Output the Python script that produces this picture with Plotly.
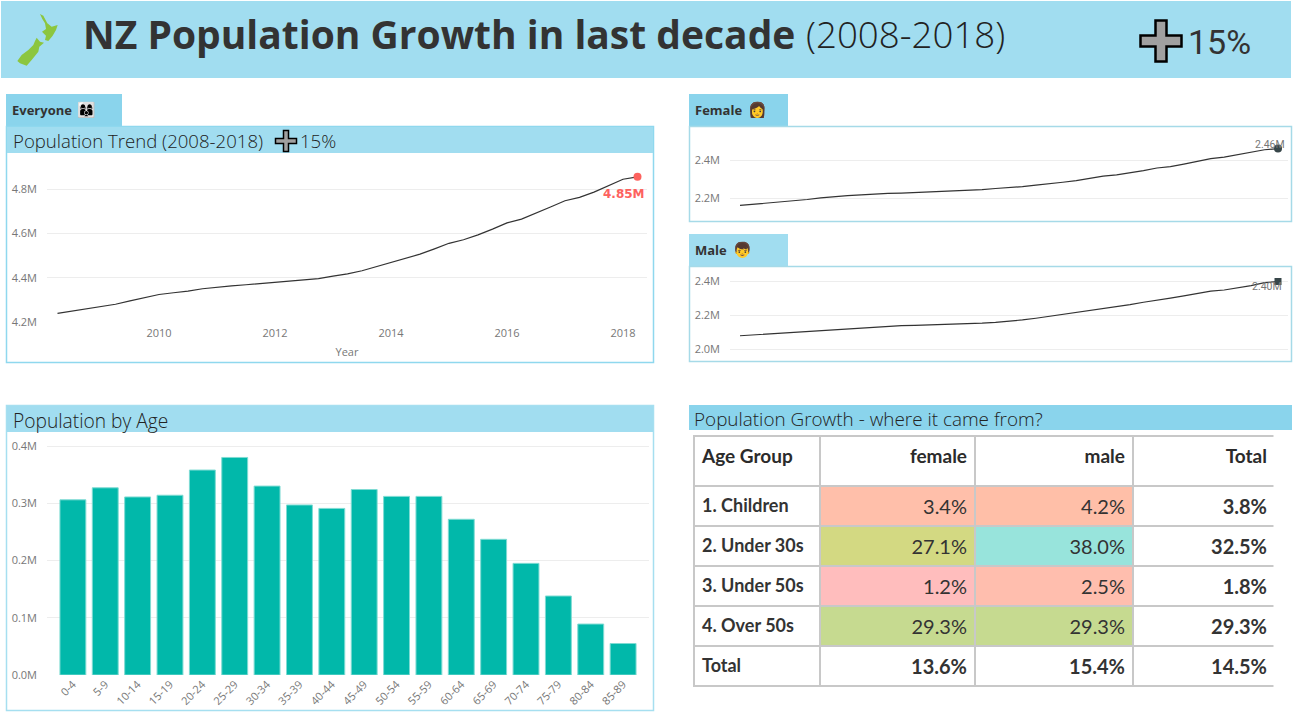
import plotly.graph_objects as go

W, H = 1302, 714

# ---------- data ----------
years = [2008.25 + 0.25 * i for i in range(41)]
everyone = [4.239,4.250,4.259,4.269,4.280,4.295,4.311,4.324,4.332,4.339,4.350,4.358,4.363,4.368,4.373,4.378,4.383,4.389,4.396,4.407,4.417,4.431,4.449,4.469,4.487,4.506,4.530,4.555,4.571,4.593,4.619,4.647,4.664,4.690,4.719,4.747,4.762,4.786,4.814,4.844,4.855]
female = [2.161,2.167,2.172,2.177,2.183,2.192,2.201,2.208,2.212,2.216,2.221,2.224,2.226,2.229,2.232,2.234,2.236,2.240,2.244,2.250,2.254,2.260,2.268,2.277,2.283,2.291,2.303,2.315,2.322,2.332,2.344,2.358,2.365,2.378,2.393,2.407,2.415,2.427,2.441,2.454,2.460]
male = [2.078,2.083,2.087,2.092,2.097,2.103,2.110,2.116,2.120,2.123,2.129,2.134,2.137,2.139,2.141,2.144,2.147,2.149,2.152,2.157,2.163,2.171,2.181,2.192,2.204,2.215,2.227,2.240,2.249,2.261,2.275,2.289,2.299,2.312,2.326,2.340,2.347,2.359,2.373,2.390,2.397]
age_groups = ["0-4","5-9","10-14","15-19","20-24","25-29","30-34","35-39","40-44","45-49","50-54","55-59","60-64","65-69","70-74","75-79","80-84","85-89"]
age_pop = [0.306,0.327,0.311,0.314,0.358,0.380,0.330,0.297,0.291,0.324,0.312,0.312,0.272,0.237,0.195,0.138,0.089,0.055]

trend_ticks = [4.2, 4.4, 4.6, 4.8]
trend_labels = ["4.2M", "4.4M", "4.6M", "4.8M"]
female_ticks = [2.2, 2.4]
female_labels = ["2.2M", "2.4M"]
male_ticks = [2.0, 2.2, 2.4]
male_labels = ["2.0M", "2.2M", "2.4M"]
age_ticks = [0, 0.1, 0.2, 0.3, 0.4]
age_labels = ["0.0M", "0.1M", "0.2M", "0.3M", "0.4M"]

tbl_header = ["Age Group", "female", "male", "Total"]
tbl_group = ["1. Children", "2. Under 30s", "3. Under 50s", "4. Over 50s", "Total"]
tbl_female = ["3.4%", "27.1%", "1.2%", "29.3%", "13.6%"]
tbl_male = ["4.2%", "38.0%", "2.5%", "29.3%", "15.4%"]
tbl_total = ["3.8%", "32.5%", "1.8%", "29.3%", "14.5%"]
tbl_female_fill = ["#FFBFAA", "#D3D982", "#FFBDBD", "#C6DA90", "#FFFFFF"]
tbl_male_fill = ["#FFBFA8", "#98E4DC", "#FFBEAE", "#C6DA90", "#FFFFFF"]

# ---------- helpers ----------
SANS = "Open Sans"
fx = lambda p: p / W
fy = lambda p: 1 - p / H
def dom_x(a, b): return [fx(a), fx(b)]
def dom_y(top, bottom): return [fy(bottom), fy(top)]

shapes, annos = [], []
def rect(x0, y0, x1, y1, fill=None, line=None, lw=1, layer="below"):
    shapes.append(dict(type="rect", xref="paper", yref="paper", x0=fx(x0), x1=fx(x1), y0=fy(y0), y1=fy(y1),
                       fillcolor=fill or "rgba(0,0,0,0)", line=dict(color=line or "rgba(0,0,0,0)", width=lw if line else 0), layer=layer))
def poly(points, fill, line=None, lw=0, layer="above"):
    d = "M" + " L".join(f"{fx(x):.5f},{fy(y):.5f}" for x, y in points) + " Z"
    shapes.append(dict(type="path", xref="paper", yref="paper", path=d, fillcolor=fill,
                       line=dict(color=line or fill, width=lw), layer=layer))
def text(x, y, s, size, color="#333333", family=SANS, weight=None):
    annos.append(dict(xref="paper", yref="paper", x=fx(x - 2), y=fy(y), text=s, showarrow=False, xanchor="left", yanchor="middle",
                      font=dict(size=size, color=color, family=family, weight=weight)))
def plus(cx, cy, half, arm, lw):
    a = arm / 2
    pts = [(cx-a,cy-half),(cx+a,cy-half),(cx+a,cy-a),(cx+half,cy-a),(cx+half,cy+a),(cx+a,cy+a),(cx+a,cy+half),(cx-a,cy+half),(cx-a,cy+a),(cx-half,cy+a),(cx-half,cy-a),(cx-a,cy-a)]
    poly(pts, "#A0A0A0", "#000000", lw)

BAND = "#A1DDF0"; TAB = "#8AD4EC"
EMOJI = "Noto Color Emoji"
DARK = "#222222"

# ---------- panels ----------
rect(1, 1, 1291, 78, BAND)
rect(6, 94, 122, 126, TAB)
rect(6.5, 126.5, 653.5, 362.5, "#FFFFFF", "#8FD8EE", 1.5)
rect(7, 127, 653, 153, BAND)
rect(689, 94, 788, 126, TAB)
rect(689.5, 126.5, 1291.5, 221.5, "#FFFFFF", "#A6DAE8", 1.5)
rect(689, 234, 788, 266, BAND)
rect(689.5, 266.5, 1291.5, 361.5, "#FFFFFF", "#A6DAE8", 1.5)
rect(6.5, 405.5, 653.5, 710.5, "#FFFFFF", "#A6DFF0", 1.5)
rect(7, 406, 653, 432, BAND)
rect(689, 405, 1292, 430, TAB)

# ---------- titles ----------
nz_n = [(90,27),(100,32),(112,55),(125,65),(143,60),(138,75),(128,92),(115,108),(105,105),(108,92),(96,80),(108,72),(105,55),(97,42)]
nz_s = [(80,98),(90,110),(102,113),(88,125),(85,140),(65,165),(50,182),(30,175),(22,168),(35,150),(55,135),(70,120),(75,108)]
poly([(10+x/3, 5+y/3) for x, y in nz_n], "#8CC63F")
poly([(10+x/3, 5+y/3) for x, y in nz_s], "#8CC63F")
text(83, 33, "NZ Population Growth in last decade", 39, weight=700)
text(806, 34, "(2008-2018)", 36.7, color=DARK, weight=300)
plus(1161, 41, 20.5, 11, 2.5)
text(1188, 42, "15%", 34, family="Roboto")
text(12, 110, "Everyone", 13, weight=700)
text(77, 110, "\U0001F469\u200D\U0001F469\u200D\U0001F466", 15, family=EMOJI)
text(13, 141, "Population Trend (2008-2018)", 18.6, color=DARK, weight=300)
plus(286, 141, 10.5, 5, 1.5)
text(300, 141, "15%", 18.6, color=DARK, weight=300)
text(695, 110, "Female", 13, weight=700)
text(748, 110, "👩", 15, family=EMOJI)
text(695, 250, "Male", 13, weight=700)
text(733, 250, "👦", 15, family=EMOJI)
text(13, 420, "Population by Age", 19.2, color=DARK, weight=300)
text(694, 419, "Population Growth - where it came from?", 18.9, color=DARK, weight=300)

# ---------- traces ----------
LINE = dict(color="#333333", width=1.2)
fig = go.Figure()
fig.add_trace(go.Scatter(x=years, y=everyone, mode="lines", line=LINE, xaxis="x", yaxis="y", hoverinfo="skip"))
fig.add_trace(go.Scatter(x=years[-1:], y=everyone[-1:], mode="markers", marker=dict(color="#FD625E", size=8), xaxis="x", yaxis="y"))
fig.add_trace(go.Scatter(x=years, y=female, mode="lines", line=LINE, xaxis="x2", yaxis="y2", hoverinfo="skip"))
fig.add_trace(go.Scatter(x=years[-1:], y=female[-1:], mode="markers", marker=dict(color="#374649", size=8), xaxis="x2", yaxis="y2"))
fig.add_trace(go.Scatter(x=years, y=male, mode="lines", line=LINE, xaxis="x3", yaxis="y3", hoverinfo="skip"))
fig.add_trace(go.Scatter(x=years[-1:], y=male[-1:], mode="markers", marker=dict(color="#374649", size=7, symbol="square"), xaxis="x3", yaxis="y3"))
fig.add_trace(go.Bar(x=age_groups, y=age_pop, marker=dict(color="#01B8AA", line=dict(color="#7FDBD3", width=1)), width=0.8, xaxis="x4", yaxis="y4"))

TBL = "Lato"
bold = lambda xs: [f"<b>{v}</b>" for v in xs]
plain_last_bold = lambda xs: [f"<span>{v}</span>" for v in xs[:-1]] + [f"<b>{xs[-1]}</b>"]
fig.add_trace(go.Table(
    domain=dict(x=dom_x(694, 1275), y=dom_y(436, 690)),
    columnwidth=[126, 155, 158, 142],
    header=dict(values=bold(tbl_header), height=50, align=["left", "right", "right", "right"],
                fill_color="#FFFFFF", line=dict(color="#C8C8C8", width=1.5),
                font=dict(size=19, color="#2B2B2B", family=TBL)),
    cells=dict(values=[bold(tbl_group), plain_last_bold(tbl_female), plain_last_bold(tbl_male), bold(tbl_total)],
               height=40, align=["left", "right", "right", "right"],
               fill_color=[["#FFFFFF"]*5, tbl_female_fill, tbl_male_fill, ["#FFFFFF"]*5],
               line=dict(color="#C8C8C8", width=1.5),
               font=dict(size=[18, 20, 20, 20], color="#333333", family=TBL)),
))
rect(1273.5, 430, 1285, 692, "#FFFFFF", layer="above")

# value labels bound to the data
LBL = "#777777"
annos.append(dict(x=years[-1], y=everyone[-1], xref="x", yref="y", text="<b>4.85M</b>", showarrow=False, xanchor="right", xshift=9, yshift=-17,
                  font=dict(size=12, color="#FD625E", family="DejaVu Sans")))
annos.append(dict(x=years[-1], y=female[-1], xref="x2", yref="y2", text="2.46M", showarrow=False, xanchor="right", xshift=9, yshift=4,
                  font=dict(size=10.5, color=LBL, family="Roboto")))
annos.append(dict(x=years[-1], y=male[-1], xref="x3", yref="y3", text="2.40M", showarrow=False, xanchor="right", xshift=6, yshift=-5,
                  font=dict(size=10.5, color=LBL, family="Roboto")))

TICK = dict(size=11, color="#777777", family=SANS)
GRID = "#EDEDED"
def yax(dom, rng, vals, labels, anchor):
    return dict(domain=dom, range=rng, tickvals=vals, ticktext=labels, showgrid=True, gridcolor=GRID, gridwidth=1,
                zeroline=False, showline=False, ticks="", tickfont=TICK, ticklabelstandoff=9, anchor=anchor, fixedrange=True)

def xr(px_left, px_right, px0, val0, per):
    return [val0 + (px_left - px0) / per, val0 + (px_right - px0) / per]

fig.update_layout(
    width=W, height=H, autosize=False, margin=dict(l=0, r=0, t=0, b=0, autoexpand=False), showlegend=False,
    paper_bgcolor="#FFFFFF", plot_bgcolor="rgba(0,0,0,0)", shapes=shapes, annotations=annos, bargap=0.2,
    xaxis=dict(domain=dom_x(47, 647), range=xr(47, 647, 159, 2010, 58), tickvals=[2010, 2012, 2014, 2016, 2018], showgrid=False, zeroline=False, ticks="",
               tickfont=TICK, anchor="y", ticklabelstandoff=3, title=dict(text="Year", font=TICK, standoff=9)),
    yaxis=yax(dom_y(165, 322), [4.2, 4.2 + 157 / 221.67], trend_ticks, trend_labels, "x"),
    xaxis2=dict(domain=dom_x(730, 1288), range=xr(730, 1288, 740, 2008.25, 53.8), visible=False, anchor="y2"),
    yaxis2=yax(dom_y(135, 215), [2.2 - 17 / 190, 2.2 + 63 / 190], female_ticks, female_labels, "x2"),
    xaxis3=dict(domain=dom_x(730, 1288), range=xr(730, 1288, 740, 2008.25, 53.8), visible=False, anchor="y3"),
    yaxis3=yax(dom_y(272, 355), [2.0 - 6 / 170, 2.0 + 77 / 170], male_ticks, male_labels, "x3"),
    xaxis4=dict(domain=dom_x(47, 649), range=[-0.8, 17.8], type="category", tickangle=-45, showgrid=False, zeroline=False, ticks="",
                tickfont=TICK, anchor="y4"),
    yaxis4=yax(dom_y(440, 675), [0, 0.4105], age_ticks, age_labels, "x4"),
)

fig.write_html("out.html", default_width="1302px", default_height="714px",
               post_script="document.body.style.margin='0';document.body.style.overflow='hidden';",
               config=dict(displayModeBar=False))
